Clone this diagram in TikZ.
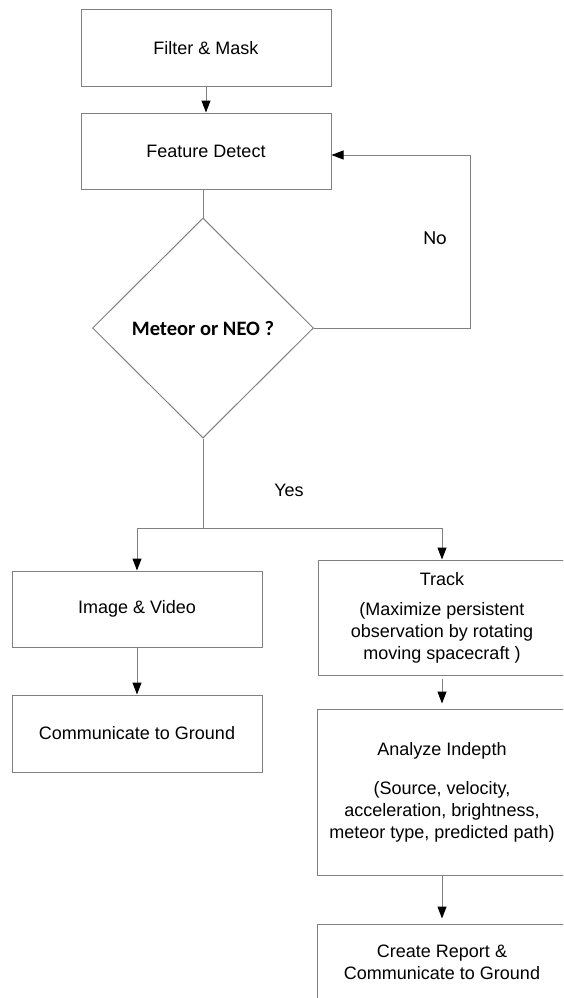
\documentclass[tikz,border=0pt]{standalone}
\usepackage{fontspec}
\setmainfont{Liberation Sans}
\newfontfamily\calibri{Carlito}
\usetikzlibrary{shapes.geometric,arrows.meta}
\definecolor{linegray}{gray}{0.5}

\begin{document}
\begin{tikzpicture}[x=1pt,y=-1pt,>={Triangle[length=12pt,width=9pt,color=black]},
	line/.style={draw=linegray,line width=1pt},
	box/.style={draw=linegray,line width=1pt,rectangle,minimum width=250pt,
		minimum height=76pt,align=center,font=\fontsize{18pt}{22pt}\selectfont},
	decision/.style={draw=linegray,line width=1pt,diamond,aspect=1,
		minimum width=221pt,minimum height=220pt,inner sep=0pt,
		font=\calibri\bfseries\fontsize{20.5pt}{24pt}\selectfont}]
\useasboundingbox (0,0) rectangle (563,998);
\clip (0,0) rectangle (563,998);
\node[box] (filter) at (206,48) {Filter \& Mask};
\node[box] (detect) at (206,151) {Feature Detect};
\node[decision] (decide) at (203,328) {Meteor or NEO ?};
\node[box] (image) at (137,609) {Image \& Video};
\node[box,minimum height=77pt] (comm) at (137,733.5) {Communicate to Ground};
\node[box,minimum width=248pt,minimum height=115pt] (track) at (442,617.5)
	{Track\\[8pt](Maximize persistent\\observation by rotating\\moving spacecraft )};
\node[box,minimum height=166pt] (analyze) at (442,792)
	{Analyze Indepth\\[17pt](Source, velocity,\\acceleration, brightness,\\meteor type, predicted path)};
\node[box] (report) at (442,962) {Create Report \&\\Communicate to Ground};
\node[font=\calibri\fontsize{20pt}{24pt}\selectfont] (nolabel) at (435,238) {No};
\node[font=\fontsize{18pt}{22pt}\selectfont] (yeslabel) at (289,490) {Yes};
\coordinate (noturn) at (470,328);
\coordinate (split) at (203,528);
\draw[line,->] (filter) -- (detect);
\draw[line] (decide.north |- detect.south) -- (decide.north);
\draw[line,->] (decide.east) -- (noturn) |- ([yshift=-4pt]detect.east);
\draw[line] (decide.south) -- (split);
\draw[line,->] (split) -| (image.north);
\draw[line,->] (split) -| (track.north);
\draw[line,->] (image) -- (comm);
\draw[line,->,shorten <=3pt,shorten >=5pt] (track) -- (analyze);
\draw[line,->,shorten >=5pt] (analyze) -- (report);
\end{tikzpicture}
\end{document}
